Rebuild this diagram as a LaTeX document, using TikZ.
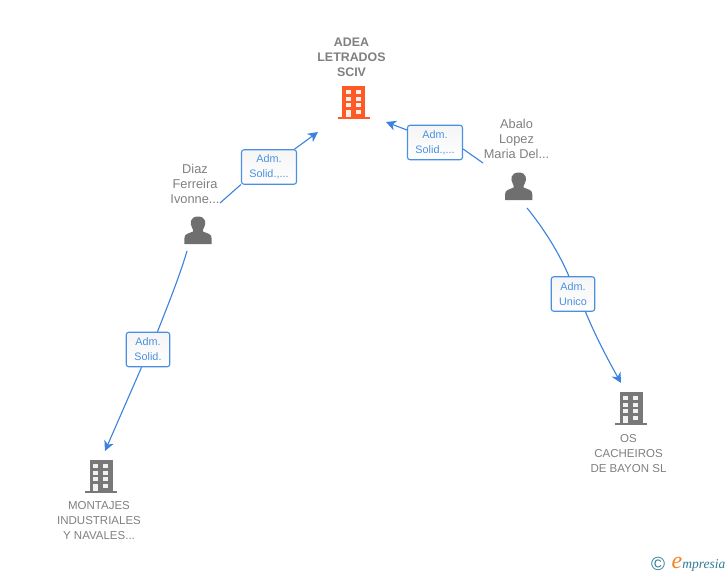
\documentclass[tikz,border=0pt]{standalone}
\usepackage{fontspec}
\setmainfont{Liberation Sans}
\newfontfamily\logofont{Liberation Serif}
\usetikzlibrary{arrows.meta}
\definecolor{linkblue}{HTML}{3B82E0}
\definecolor{boxblue}{HTML}{4A90E2}
\definecolor{labelgray}{HTML}{808080}
\definecolor{icongray}{HTML}{6F6F6F}
\definecolor{firmgray}{HTML}{787878}
\definecolor{mainorange}{HTML}{FF5A26}
\definecolor{logoteal}{HTML}{2F7C94}
\definecolor{logoorange}{HTML}{F58220}
\tikzset{
  rolebox/.style={draw=boxblue,line width=1.1pt,rounded corners=2.5pt,top color=black!4,bottom color=white,
    minimum height=34.5pt,inner sep=0pt,text=boxblue,font=\fontsize{10.8}{15}\selectfont,align=center,
    execute at begin node=\rule{0pt}{10pt}},
  namelabel/.style={text=labelgray,font=\fontsize{12.8}{15}\selectfont,align=center,inner sep=0pt},
  firmlabel/.style={text=labelgray,font=\fontsize{11.5}{15}\selectfont,align=center,inner sep=0pt},
  mainlabel/.style={text=labelgray,font=\fontsize{12.4}{15}\selectfont\bfseries,align=center,inner sep=0pt},
  link/.style={draw=linkblue,line width=1.1pt},
  linkarrow/.style={link,-{Stealth[length=10pt,width=10pt,inset=3pt]}},
  pics/building/.style={code={
    \fill[#1] (-15.7,14.8) rectangle (15.7,16.8);
    \fill[#1] (-11.5,-16.5) rectangle (11.5,16);
    % ventanas
    \foreach \x in {-7.8,2.2} \foreach \y in {-12.5,-5.2,0.8}
      \fill[white,opacity=0.9] (\x,\y) rectangle ++(4.8,4);
    \fill[white,opacity=0.9] (2.2,7.5) rectangle ++(4.8,4);
    \fill[white,opacity=0.9] (-7.8,7.5) rectangle ++(4.8,7.3);
  }},
  pics/person/.style={code={
    \fill[icongray] (0,-14) .. controls (-8,-14) and (-8.5,-7) .. (-6,-3)
      .. controls (-4.8,-1) and (-4.8,0) .. (-5,1)
      .. controls (-9,3) and (-13.7,3) .. (-13.7,8) -- (-13.7,13.5) -- (13.7,13.5) -- (13.7,8)
      .. controls (13.7,3) and (9,3) .. (5,1)
      .. controls (4.8,0) and (4.8,-1) .. (6,-3)
      .. controls (8.5,-7) and (8,-14) .. (0,-14) -- cycle;
  }}
}
\begin{document}
\begin{tikzpicture}[x=1pt,y=-1pt]
  \useasboundingbox[fill=white] (0,0) rectangle (728,575);

  % Empresas
  \node[mainlabel] (adea) at (351.5,57) {ADEA\\LETRADOS\\SCIV};
  \pic at (353.8,102.5) {building=mainorange};
  \node[firmlabel] (montajes) at (99,521) {MONTAJES\\INDUSTRIALES\\Y NAVALES...};
  \pic at (101,476.5) {building=firmgray};
  \node[firmlabel] (cacheiros) at (628.5,454) {OS\\CACHEIROS\\DE BAYON SL};
  \pic at (631,408.5) {building=firmgray};

  % Personas
  \node[namelabel] (diaz) at (195,183.5) {Diaz\\Ferreira\\Ivonne...};
  \pic at (198,230.5) {person};
  \node[namelabel] (abalo) at (516.5,139) {Abalo\\Lopez\\Maria Del...};
  \pic at (518.7,186.5) {person};

  % Cargos
  \node[rolebox,minimum width=55pt] (solidA) at (269,167) {Adm.\\Solid.,...};
  \node[rolebox,minimum width=55pt] (solidB) at (435,142.5) {Adm.\\Solid.,...};
  \node[rolebox,minimum width=43.5pt] (unico) at (573,294) {Adm.\\Unico};
  \node[rolebox,minimum width=43.5pt] (solidC) at (148,349.5) {Adm.\\Solid.};

  % Extremos libres
  \coordinate (diazout) at (220,203);
  \coordinate (diazdown) at (187,251);
  \coordinate (abaloout) at (483,163);
  \coordinate (abalodown) at (527,208);
  \coordinate (adealeft) at (318,132);
  \coordinate (adearight) at (386,122);
  \coordinate (montajestop) at (105,451);
  \coordinate (cacheirostop) at (621,383);

  % Conexiones
  \draw[link] (diazout) -- (solidA.212);
  \draw[linkarrow] (solidA.35) -- (adealeft);
  \draw[link] (abaloout) -- (solidB.-13);
  \draw[linkarrow] (solidB.156) -- (adearight);
  \draw[link] (abalodown) .. controls (545,230) and (560,255) .. (unico.103);
  \draw[linkarrow] (unico.-55) .. controls (595,335) and (607,358) .. (cacheirostop);
  \draw[link] (diazdown) .. controls (180,275) and (168,305) .. (solidC.62);
  \draw[linkarrow] (solidC.250) -- (montajestop);

  % Marca
  \node[text=logoteal,font=\fontsize{19}{19}\selectfont,inner sep=0pt] (copy) at (658,564) {©};
  \node[anchor=base west,inner sep=0pt,font=\logofont\fontsize{13.5}{14}\selectfont\itshape,text=logoteal] (brand) at (671.5,568)
    {{\fontsize{24}{24}\selectfont\color{logoorange}e}mpresia};
\end{tikzpicture}
\end{document}
